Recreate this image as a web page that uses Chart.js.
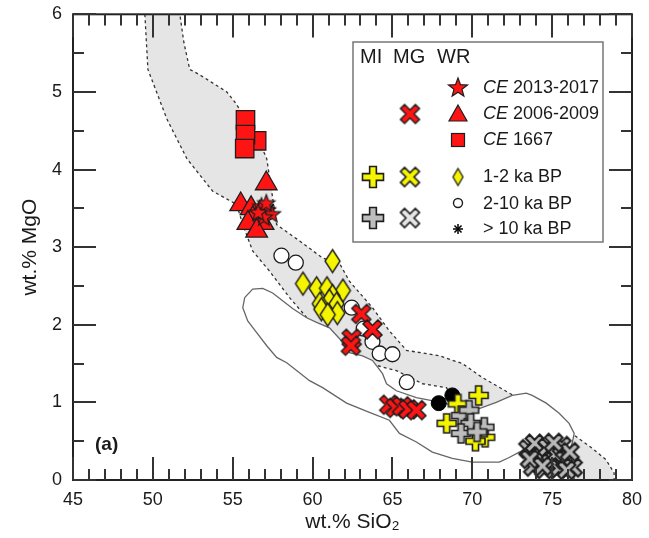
<!DOCTYPE html>
<html><head><meta charset="utf-8">
<script src="https://cdn.jsdelivr.net/npm/chart.js@4.4.0/dist/chart.umd.min.js"></script>
<style>html,body{margin:0;padding:0;background:#fff;} #wrap{position:relative;width:649px;height:538px;} #ov{position:absolute;left:0;top:0;pointer-events:none;}</style>
</head><body>
<div id="wrap"><canvas id="c" width="649" height="538"></canvas><canvas id="ov" width="649" height="538"></canvas></div>
<script>
// ---------- data (SiO2 wt.%, MgO wt.%) ----------
const xTickValues = [45, 50, 55, 60, 65, 70, 75, 80];
const yTickValues = [0, 1, 2, 3, 4, 5, 6];

// WR: CE 2013-2017 (stars)
const wrCE2013 = [[56.8,3.52],[57.15,3.47],[57.45,3.42],[56.95,3.38],[57.1,3.56],[56.6,3.44]];
// WR: CE 2006-2009 (triangles)
const wrCE2006 = [[57.1,3.82],[55.5,3.55],[56.15,3.5],[56.7,3.44],[56.25,3.37],[55.95,3.31],[56.9,3.31],[56.5,3.21]];
// WR: CE 1667 (squares)
const wrCE1667 = [[56.5,4.37],[55.8,4.64],[55.8,4.45],[55.75,4.27]];
// WR: 1-2 ka BP (diamonds)
const wr12ka = [[61.25,2.82],[59.4,2.53],[60.25,2.47],[60.9,2.47],[61.9,2.44],[61.25,2.37],[61.05,2.31],[60.45,2.27],[60.55,2.2],[61.5,2.27],[61.55,2.15],[60.95,2.13]];
// WR: 2-10 ka BP (open circles)
const wr210ka = [[58.05,2.89],[58.95,2.8],[62.45,2.22],[63.2,1.95],[63.75,1.78],[64.2,1.63],[65.0,1.62],[65.9,1.26]];
// WR: > 10 ka BP (asterisks)
const wr10ka = [[56.95,3.47],[57.3,3.5]];
// WR: filled black circles (not in key)
const wrBlack = [[67.9,0.99],[68.75,1.09]];
// MG: CE 2006-2009 (red crosses)
const mgCE2006 = [[63.05,2.14],[63.75,1.94],[62.45,1.82],[62.4,1.73],[64.8,0.97],[65.2,0.93],[65.6,0.95],[66.0,0.91],[66.5,0.9]];
// MG: older (grey crosses)
const mgOld = [[73.5,0.40],[73.9,0.47],[74.3,0.30],[73.8,0.17],[74.7,0.42],[74.9,0.22],[75.2,0.33],[75.4,0.15],[75.6,0.44],[75.8,0.26],[76.1,0.36],[76.3,0.16],[74.5,0.14],[75.9,0.13],[73.6,0.27],[74.4,0.18],[75.1,0.48]];
// MI: 1-2 ka BP (yellow plus)
const mi12ka = [[70.4,1.09],[68.4,0.73],[69.1,0.98],[70.8,0.55],[70.2,0.5]];
// MI: older (grey plus)
const miOld = [[69.3,0.83],[69.8,0.9],[69.9,0.73],[70.75,0.68],[69.3,0.6],[70.3,0.62]];

// Fields
const greyField = [[49.5,6.0],[49.69,5.29],[50.88,4.65],[52.13,4.14],[53.75,3.72],[55.25,3.55],[55.63,3.29],[56.25,2.95],[57.31,2.69],[58.56,2.35],[59.81,2.05],[61.06,1.79],[62.75,1.58],[63.56,1.5],[65.25,1.41],[66.88,1.24],[68.38,1.19],[68.94,1.0],[70.44,0.77],[74.19,0.51],[76.19,0.32],[76.38,0.0],[78.88,0.0],[78.88,0.09],[78.38,0.26],[77.5,0.41],[76.5,0.56],[74.19,0.9],[72.31,1.12],[70.63,1.32],[69.38,1.5],[67.94,1.6],[65.88,1.67],[64.81,1.92],[63.75,2.22],[62.31,2.56],[61.69,2.79],[60.63,2.86],[59.19,3.08],[57.75,3.29],[57.44,3.72],[57.13,4.14],[56.38,4.49],[55.13,4.87],[54.63,5.0],[52.94,5.22],[52.31,5.29],[51.94,5.64],[51.69,6.0]];
const whiteField = [[55.75,2.35],[56.25,2.46],[56.88,2.47],[57.5,2.41],[58.75,2.21],[59.63,2.09],[60.25,2.03],[61.06,1.96],[61.69,1.82],[62.31,1.64],[63.13,1.6],[63.75,1.54],[64.38,1.37],[64.63,1.24],[65.25,1.15],[66.5,1.06],[67.31,1.03],[68.88,0.96],[70.44,0.92],[71.5,1.0],[72.5,1.09],[73.38,1.12],[73.75,1.09],[74.63,0.99],[75.44,0.86],[76.06,0.73],[76.38,0.6],[76.25,0.47],[76.06,0.38],[73.38,0.38],[72.94,0.36],[72.31,0.29],[71.69,0.23],[70.0,0.23],[68.75,0.28],[67.5,0.36],[66.5,0.49],[65.44,0.6],[64.81,0.77],[63.56,0.87],[62.13,0.99],[60.63,1.19],[59.81,1.28],[59.0,1.41],[58.38,1.51],[57.75,1.58],[57.13,1.73],[56.5,1.9],[55.94,2.05],[55.63,2.22]];

// ---------- styling ----------
const FONT = '"Liberation Sans", Arial, Helvetica, sans-serif';
const RED = '#ff1414', YEL = '#f5f500', GRY = '#bdbdbd', EDGE = '#1e1e1e';

function mk(box, draw){ const c=document.createElement('canvas'); c.width=c.height=box; const g=c.getContext('2d'); g.translate(box/2,box/2); g.lineJoin='miter'; draw(g); return c; }
function crossMarker(size, fill, lw, rot, arm){
  return mk(Math.ceil(size*1.3)+6, g=>{
    if(rot) g.rotate(Math.PI/4);
    const a = rot ? size*0.62 : size/2, w = size*(arm||0.16);
    const p=[[-w,-a],[w,-a],[w,-w],[a,-w],[a,w],[w,w],[w,a],[-w,a],[-w,w],[-a,w],[-a,-w],[-w,-w]];
    g.beginPath(); p.forEach(([x,y],i)=> i?g.lineTo(x,y):g.moveTo(x,y)); g.closePath();
    g.fillStyle=fill; g.fill(); g.lineWidth=lw; g.strokeStyle=EDGE; g.stroke();
  });
}
function starMarker(r, fill, lw){
  return mk(Math.ceil(2*r)+6, g=>{
    g.beginPath();
    for(let i=0;i<10;i++){ const ang=-Math.PI/2+i*Math.PI/5, rr=i%2?r*0.42:r; const x=Math.cos(ang)*rr, y=Math.sin(ang)*rr; i?g.lineTo(x,y):g.moveTo(x,y); }
    g.closePath(); g.fillStyle=fill; g.fill(); g.lineWidth=lw; g.strokeStyle=EDGE; g.stroke();
  });
}
function diamondMarker(w, h, fill, lw){
  return mk(Math.ceil(h)+6, g=>{
    g.beginPath(); g.moveTo(0,-h/2); g.lineTo(w/2,0); g.lineTo(0,h/2); g.lineTo(-w/2,0); g.closePath();
    g.fillStyle=fill; g.fill(); g.lineWidth=lw; g.strokeStyle=EDGE; g.stroke();
  });
}

const redX = crossMarker(17, RED, 1.5, true, 0.17);
const greyX = crossMarker(16, '#b8b8b8', 2.1, true, 0.17);
const yelPlus = crossMarker(19, YEL, 1.6, false);
const greyPlus = crossMarker(19, GRY, 1.6, false);
const redStar = starMarker(9, RED, 1.2);
const yelDiamond = diamondMarker(15, 23, YEL, 1.4);

const pts = a => a.map(([x,y]) => ({x, y}));
const closed = a => pts([...a, a[0]]);

// ---------- plugins ----------
function drawTicks(ctx, chart){
  const a = chart.chartArea, xs = chart.scales.x, ys = chart.scales.y;
  ctx.save();
  ctx.globalAlpha = 1; ctx.globalCompositeOperation = 'source-over';
  ctx.fillStyle = '#333333';
  for(let v=45; v<=80; v++){
    const px = Math.round(xs.getPixelForValue(v)), L = (v%5===0)?23:11;
    ctx.fillRect(px-1, a.bottom-L, 2, L);
    ctx.fillRect(px-1, a.top, 2, L);
  }
  for(let k=0; k<=12; k++){
    const py = Math.round(ys.getPixelForValue(k/2)), L = (k%2===0)?23:11;
    ctx.fillRect(a.left, py-1, L, 2);
    ctx.fillRect(a.right-L, py-1, L, 2);
  }
  ctx.restore();
}

const frame = {
  id: 'axisFrame',
  afterDraw(chart){
    const ctx = chart.ctx, a = chart.chartArea, ys = chart.scales.y;
    drawTicks(ctx, chart);
    const o = document.getElementById('ov').getContext('2d');
    o.clearRect(0, 0, 649, 538);
    drawTicks(o, chart);
    ctx.save();
    ctx.strokeStyle = '#222'; ctx.lineWidth = 2;
    ctx.strokeRect(a.left, a.top, a.right-a.left, a.bottom-a.top);
    ctx.fillStyle = '#1a1a1a'; ctx.font = 'bold 19px ' + FONT; ctx.textBaseline = 'middle'; ctx.textAlign = 'left';
    ctx.fillText('(a)', a.left + 22, ys.getPixelForValue(0.45));
    ctx.restore();
  }
};

const key = {
  id: 'keyBox',
  afterDraw(chart){
    const ctx = chart.ctx;
    ctx.save();
    ctx.textAlign='left';
    const L=353, T=42, R=603, B=242;
    ctx.fillStyle='#fff'; ctx.fillRect(L,T,R-L,B-T);
    ctx.strokeStyle='#777'; ctx.lineWidth=1.5; ctx.strokeRect(L,T,R-L,B-T);
    ctx.fillStyle='#1a1a1a'; ctx.textBaseline='middle';
    ctx.font='20px '+FONT;
    ctx.fillText('MI', 360, 57); ctx.fillText('MG', 393, 57); ctx.fillText('WR', 437, 57);
    const colMI=373, colMG=410, colWR=458, tx=483;
    const rows = [88, 114, 140, 177, 204, 229];
    const img = (c,x,y)=>ctx.drawImage(c, x-c.width/2, y-c.height/2);
    img(starMarker(10, RED, 1.2), colWR, rows[0]);
    img(crossMarker(17, RED, 1.5, true, 0.17), colMG, rows[1]);
    ctx.beginPath(); ctx.moveTo(colWR, rows[1]-9); ctx.lineTo(colWR+9, rows[1]+7); ctx.lineTo(colWR-9, rows[1]+7); ctx.closePath();
    ctx.fillStyle=RED; ctx.fill(); ctx.strokeStyle=EDGE; ctx.lineWidth=1.2; ctx.stroke();
    ctx.fillStyle=RED; ctx.fillRect(colWR-6.5, rows[2]-6.5, 13, 13); ctx.strokeRect(colWR-6.5, rows[2]-6.5, 13, 13);
    img(crossMarker(21, YEL, 1.6, false), colMI, rows[3]);
    img(crossMarker(17, YEL, 1.6, true, 0.17), colMG, rows[3]);
    img(diamondMarker(10, 17, YEL, 1.3), colWR, rows[3]);
    ctx.beginPath(); ctx.arc(colWR, rows[4]-1, 4.5, 0, 2*Math.PI); ctx.fillStyle='#fff'; ctx.fill(); ctx.lineWidth=1.4; ctx.stroke();
    ctx.lineWidth=1.5; ctx.strokeStyle='#000';
    for(let i=0;i<4;i++){ const an=i*Math.PI/4; ctx.beginPath(); ctx.moveTo(colWR-5*Math.cos(an), rows[5]-5*Math.sin(an)); ctx.lineTo(colWR+5*Math.cos(an), rows[5]+5*Math.sin(an)); ctx.stroke(); }
    img(crossMarker(21, GRY, 1.6, false), colMI, 218);
    img(crossMarker(17, '#e6e6e6', 1.6, true, 0.17), colMG, 218);
    ctx.fillStyle='#1a1a1a';
    const ce = (label, y)=>{ ctx.font='italic 18px '+FONT; ctx.fillText('CE', tx, y); const w=ctx.measureText('CE ').width; ctx.font='18px '+FONT; ctx.fillText(label, tx+w, y); };
    ce('2013-2017', rows[0]); ce('2006-2009', rows[1]); ce('1667', rows[2]);
    ctx.font='18px '+FONT;
    ctx.fillText('1-2 ka BP', tx, rows[3]);
    ctx.fillText('2-10 ka BP', tx, rows[4]);
    ctx.fillText('> 10 ka BP', tx, rows[5]);
    ctx.restore();
  }
};

new Chart(document.getElementById('c'), {
  type: 'scatter',
  data: { datasets: [
    {data: pts(mgCE2006), pointStyle: redX, pointRadius: 9, order: 1},
    {data: pts(miOld), pointStyle: greyPlus, pointRadius: 9, order: 2},
    {data: pts(mi12ka), pointStyle: yelPlus, pointRadius: 9, order: 3},
    {data: pts(wrBlack), pointStyle: 'circle', pointRadius: 7.5, backgroundColor: '#000', borderColor: '#000', borderWidth: 1, order: 4},
    {data: pts(wrCE2013), pointStyle: redStar, pointRadius: 9, order: 5},
    {data: pts(wr10ka), pointStyle: 'star', pointRadius: 6, borderColor: '#000', borderWidth: 1.5, order: 6},
    {data: pts(wrCE2006), pointStyle: 'triangle', pointRadius: 12.5, backgroundColor: RED, borderColor: EDGE, borderWidth: 1.3, order: 7},
    {data: pts(wrCE1667), pointStyle: 'rect', pointRadius: 13, backgroundColor: RED, borderColor: EDGE, borderWidth: 1.3, order: 8},
    {data: pts(wr12ka), pointStyle: yelDiamond, pointRadius: 10, order: 9},
    {data: pts(wr210ka), pointStyle: 'circle', pointRadius: 7.5, backgroundColor: '#fff', borderColor: EDGE, borderWidth: 1.3, order: 10},
    {data: pts(mgOld), pointStyle: greyX, pointRadius: 9, order: 11},
    {data: closed(whiteField), showLine: true, fill: 'shape', backgroundColor: '#fff', borderColor: '#666', borderWidth: 1.3, pointRadius: 0, tension: 0, order: 20},
    {data: closed(greyField), showLine: true, fill: 'shape', backgroundColor: '#e5e5e5', borderColor: '#333', borderWidth: 1.3, borderDash: [3,3], pointRadius: 0, tension: 0, order: 21}
  ]},
  options: {
    responsive: false, animation: false, devicePixelRatio: 1,
    layout: { padding: { left: 0, right: 17, top: 12, bottom: 0 } },
    plugins: { legend: { display: false }, tooltip: { enabled: false } },
    events: [],
    scales: {
      x: {
        type: 'linear', min: 45, max: 80,
        afterFit: s => { s.height = 58; s.paddingLeft = 0; s.paddingRight = 0; },
        afterBuildTicks: s => { s.ticks = xTickValues.map(v => ({value: v})); },
        grid: { display: false, drawTicks: false }, border: { display: false },
        ticks: { font: { family: FONT, size: 18 }, color: '#1a1a1a', padding: 9, maxRotation: 0 },
        title: { display: true, text: 'wt.% SiO\u2082', font: { family: FONT, size: 21 }, color: '#1a1a1a', padding: { top: 0, bottom: 3 } }
      },
      y: {
        type: 'linear', min: 0, max: 6,
        afterFit: s => { s.width = 73; s.paddingTop = 0; s.paddingBottom = 0; },
        afterBuildTicks: s => { s.ticks = yTickValues.map(v => ({value: v})); },
        grid: { display: false, drawTicks: false }, border: { display: false },
        ticks: { font: { family: FONT, size: 18 }, color: '#1a1a1a', padding: 11 },
        title: { display: true, text: 'wt.% MgO', font: { family: FONT, size: 21 }, color: '#1a1a1a', padding: { top: 18, bottom: 0 } }
      }
    }
  },
  plugins: [frame, key]
});
</script>
</body></html>
